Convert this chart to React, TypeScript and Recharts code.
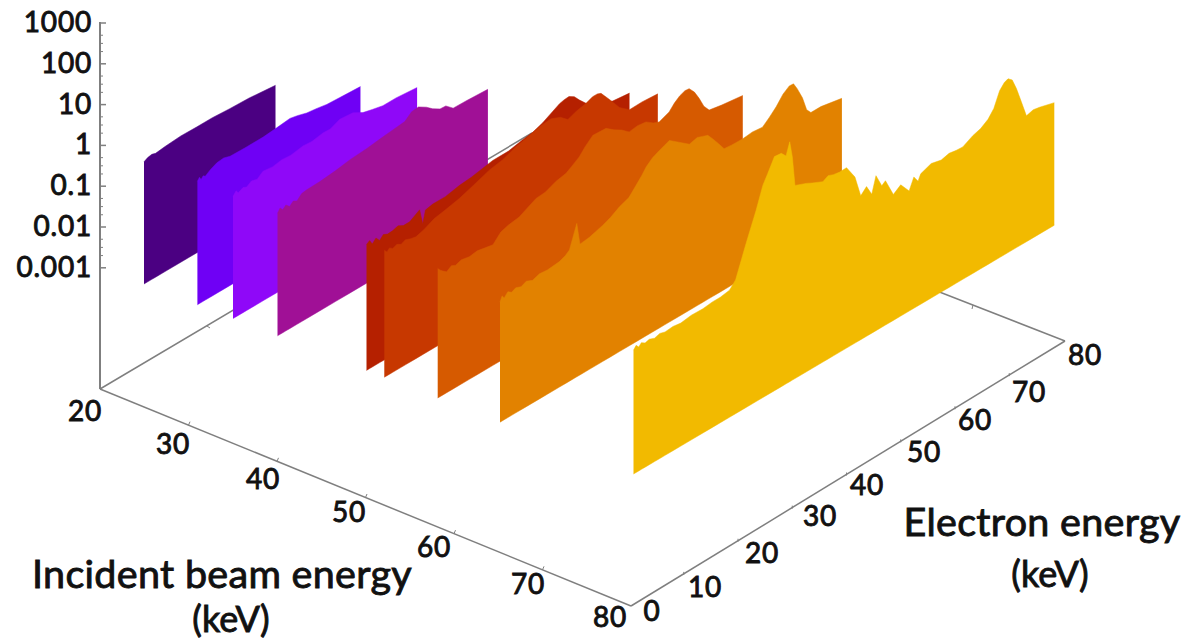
import { ComposedChart, Area, XAxis, YAxis, ReferenceLine, ReferenceDot } from 'recharts';

// electron energy (keV) and log10(intensity) along each spectrum
const e25 = [0, 0.7, 1.5, 2.2, 4, 7, 10, 13, 16.3, 20, 25];
const i25 = [-0.02, 0.03, 0.05, 0.02, 0.05, 0.08, 0.07, 0.07, 0.04, 0.02, -0.05];
const e31 = [0, 0.4, 0.7, 1.1, 1.5, 2.5, 3.7, 5, 6.2, 9, 12.5, 15, 17.6, 19, 20.8, 22.5, 24.6, 27, 31];
const i31 = [0.01, 0.08, 0, 0.06, 0.02, 0.11, 0.18, 0.2, 0.15, 0.14, 0.14, 0.17, 0.21, 0.17, 0.1, 0.07, 0.02, 0, -0.03];
const e35 = [0, 0.6, 1, 1.9, 2.6, 3.5, 4.6, 5.7, 7.5, 9.3, 11, 13.3, 15, 17.1, 18.5, 20.3, 22.8, 24.7, 26.5, 28.5, 31, 35];
const i35 = [-0.02, 0.07, -0.01, 0.05, 0.01, 0.09, 0.05, 0.16, 0.13, 0.17, 0.15, 0.2, 0.18, 0.23, 0.22, 0.32, 0.29, 0.15, 0.09, 0.03, 0.03, -0.02];
const e40 = [0, 0.5, 1, 1.6, 2.3, 3, 3.7, 4.6, 5.5, 8, 11, 13.8, 17, 20, 22, 24.2, 25.5, 26.8, 28.3, 29.5, 30.9, 32, 33.4, 36, 40];
const i40 = [-0.01, 0.08, 0, 0.07, -0.02, 0.06, 0.01, 0.12, 0.14, 0.15, 0.19, 0.25, 0.28, 0.33, 0.36, 0.39, 0.53, 0.55, 0.43, 0.3, 0.19, 0.18, 0.02, 0.01, -0.02];
const e50 = [0, 0.6, 1.1, 1.8, 2.5, 3.2, 4, 5, 6, 7, 8.2, 9.2, 10.1, 10.4, 10.7, 11.2, 12.6, 15, 17.7, 20, 24, 27, 29.5, 31.6, 33.5, 36.7, 37.6, 38.5, 39.5, 40.5, 41.8, 44, 46.8, 48, 50];
const i50 = [0.07, 0.12, 0, 0.09, -0.02, 0.07, 0.02, 0.03, 0.07, 0, 0, 0.08, 0.15, -0.05, -0.24, 0.06, 0.1, 0.1, 0.17, 0.2, 0.3, 0.3, 0.37, 0.41, 0.5, 0.72, 0.75, 0.76, 0.68, 0.52, 0.34, 0.15, 0.02, 0, -0.03];
const e52 = [0, 0.5, 1, 1.6, 2.4, 3.2, 4, 5, 6, 7.5, 9.5, 11.5, 14.3, 17, 20, 22.5, 25, 27.5, 29.5, 31.7, 33.5, 34.9, 36.5, 38.3, 39.6, 40.5, 41.2, 42.8, 44.7, 46.6, 49, 52];
const i52 = [0.1, 0.02, 0.08, 0.02, 0.06, 0, 0.05, 0, -0.03, 0.03, 0.15, 0.2, 0.28, 0.4, 0.54, 0.6, 0.72, 0.8, 0.87, 0.9, 0.8, 0.64, 0.72, 0.77, 0.84, 0.84, 0.8, 0.53, 0.19, -0.01, 0, -0.03];
const e58 = [0, 0.5, 1, 1.7, 2.6, 3.4, 4.5, 6, 7.5, 9, 10.5, 12, 13.5, 15.5, 17, 18.7, 20.5, 22.5, 24.4, 25.5, 26.9, 28, 29.5, 32, 33.5, 35, 36.4, 38, 39.6, 41, 42.1, 44, 45, 46, 47, 47.8, 48.8, 49.7, 50.6, 51.6, 54, 58];
const i58 = [0.16, 0.08, 0.02, -0.05, 0.03, -0.02, 0.03, -0.01, 0.02, -0.02, -0.06, 0.14, 0.2, 0.24, 0.34, 0.45, 0.47, 0.58, 0.63, 0.72, 0.84, 1, 1.17, 1.15, 1, 0.88, 0.73, 0.76, 0.73, 0.6, 0.54, 0.64, 0.78, 0.88, 0.93, 0.92, 0.76, 0.54, 0.28, 0.11, 0.05, -0.02];
const e65 = [0, 0.4, 0.8, 1.5, 2.2, 3, 4, 5, 6.2, 7.5, 9, 11.3, 12.4, 13.2, 14.6, 15.2, 17, 19.5, 21, 22.7, 24.5, 25.9, 27, 27.8, 29, 30.3, 31.3, 32.2, 34, 36, 37.5, 38.5, 39.5, 40.4, 41.5, 42.6, 44, 46.1, 48, 49.9, 51.2, 52.5, 53.8, 55, 55.8, 56.5, 57.5, 58.3, 59.1, 61, 65];
const i65 = [-0.07, 0.05, -0.03, 0.07, 0, 0.05, 0, 0.06, -0.01, 0.05, 0.03, 0.06, 0.12, 0.2, 0.74, 0.19, 0.22, 0.32, 0.4, 0.53, 0.62, 0.82, 0.98, 1.12, 1.25, 1.33, 1.38, 1.43, 1.25, 1.05, 1.1, 1.05, 1, 0.85, 0.65, 0.44, 0.42, 0.41, 0.44, 0.41, 0.55, 0.71, 0.92, 1.03, 1.02, 0.85, 0.55, 0.2, 0.07, 0.07, -0.03];
const e80 = [0, 0.5, 1, 1.5, 2.2, 3, 4, 5, 6, 7.5, 9, 11, 13.2, 15, 16.5, 18.25, 19.4, 21.4, 23.3, 24.6, 25.5, 26.8, 28.1, 29, 29.7, 30.2, 30.7, 32.8, 34, 36, 37, 38, 39.2, 40.5, 42.1, 43.2, 44.3, 45.3, 46.1, 47.2, 47.9, 49.4, 50.8, 52.4, 53.3, 54.1, 54.6, 56.6, 58.5, 60, 61.4, 62.6, 64.5, 66, 67.4, 68.5, 69.6, 70.5, 71.2, 72, 72.8, 73.7, 74.7, 76, 77.2, 80];
const i80 = [0.02, 0.1, 0.02, 0.09, 0.03, 0.06, 0.01, 0.05, 0.01, 0.03, 0, 0.04, 0.03, 0.06, 0.06, 0.1, 0.26, 1, 1.66, 2.18, 2.39, 2.71, 2.69, 2.56, 2.85, 2.44, 1.71, 1.6, 1.52, 1.4, 1.47, 1.42, 1.39, 1.4, 1.05, 0.51, 0.65, 0.39, 0.78, 0.45, 0.52, 0.07, 0.2, -0.07, 0.2, 0.04, 0.18, 0.28, 0.22, 0.27, 0.24, 0.23, 0.36, 0.42, 0.54, 0.72, 1.07, 1.2, 1.24, 1.15, 0.88, 0.5, 0.07, 0.12, 0.09, -0.01];

const logTicks = ['1000', '100', '10', '1', '0.1', '0.01', '0.001'];
const beamTicks = [20, 30, 40, 50, 60, 70, 80];
const electronTicks = [0, 10, 20, 30, 40, 50, 60, 70, 80];

const GREY = '#7f7f7f';
const FONT = 'Lato, sans-serif';

// oblique projection of (beam, electron, log intensity) onto the chart plane
const px = (b: number, e: number) => 144 + (b - 25) * 8.9 + e * 5.26;
const py = (b: number, e: number, v: number) => 284 + (b - 25) * 3.455 - e * 3.11 - (v + 3) * 41;

const slices = [
  { beam: 25, e: e25, v: i25, color: '#4b0082' },
  { beam: 31, e: e31, v: i31, color: '#6f00f5' },
  { beam: 35, e: e35, v: i35, color: '#8f08f8' },
  { beam: 40, e: e40, v: i40, color: '#a01096' },
  { beam: 50, e: e50, v: i50, color: '#b52000' },
  { beam: 52, e: e52, v: i52, color: '#c73800' },
  { beam: 58, e: e58, v: i58, color: '#d65a00' },
  { beam: 65, e: e65, v: i65, color: '#e28200' },
  { beam: 80, e: e80, v: i80, color: '#f2ba00' },
];

const rows = (s: (typeof slices)[number]) =>
  s.e.map((e, i) => ({
    x: px(s.beam, e),
    band: [py(s.beam, e, -3), py(s.beam, e, s.v[i])],
  }));

// floor edges hidden behind the spectra, so they go in the same layer, first
const backLeft = [{ x: 100, band: 389 }, { x: 532, band: 133 }];
const backRight = [{ x: 532, band: 133 }, { x: 1065, band: 341 }];

const seg = (x1: number, y1: number, x2: number, y2: number, w = 1.5) => (
  <ReferenceLine
    key={`${x1}-${y1}-${x2}-${y2}`}
    segment={[{ x: x1, y: y1 }, { x: x2, y: y2 }]}
    stroke={GREY}
    strokeWidth={w}
    ifOverflow="visible"
  />
);

const label = (text: string, x: number, y: number, size = 28, anchor = 'middle', spacing = 0.8) => (
  <ReferenceDot
    key={`${text}-${x}`}
    x={x}
    y={y}
    r={0}
    ifOverflow="visible"
    shape={(p: any) => (
      <text x={p.cx} y={p.cy} textAnchor={anchor} dominantBaseline="central" fontFamily={FONT} fontWeight={400} fontSize={size} letterSpacing={spacing} fill="#111" stroke="#111" strokeWidth={0.9}>
        {text}
      </text>
    )}
  />
);

const beamLabelPos = [[85, 410], [173, 443], [263, 478], [349, 511], [434, 546], [528, 583], [610, 616]];
const electronLabelPos = [[652, 610], [705, 586], [762, 552], [820, 515], [867, 484], [924, 451], [975, 419], [1029, 391], [1085, 354]];

export default function App() {
  return (
    <div style={{ position: 'absolute', left: 0, top: 0, width: 1184, height: 640, background: '#fff' }}>
      <ComposedChart width={1184} height={640} margin={{ top: 0, right: 0, bottom: 0, left: 0 }}>
        <XAxis type="number" dataKey="x" domain={[0, 1184]} hide allowDataOverflow />
        <YAxis type="number" domain={[0, 640]} reversed hide allowDataOverflow />

        <Area data={backLeft} dataKey="band" type="linear" fill="none" stroke={GREY} strokeWidth={1.5} dot={false} activeDot={false} isAnimationActive={false} />
        <Area data={backRight} dataKey="band" type="linear" fill="none" stroke={GREY} strokeWidth={1.5} dot={false} activeDot={false} isAnimationActive={false} />

        {seg(100, 22, 100, 389, 2)}
        {seg(100, 389, 631, 606)}
        {seg(631, 606, 1065, 341)}
        {seg(207, 326, 210, 328, 1)}
        {seg(973, 305, 972, 309, 1)}

        {logTicks.map((_, i) => seg(100, 23 + i * 40.8, 106, 23 + i * 40.8))}
        {logTicks.slice(0, -1).flatMap((_, i) => [0.3, 0.5, 0.7].map((f) => seg(100, 23 + (i + f) * 40.8, 103, 23 + (i + f) * 40.8, 1)))}
        {beamTicks.slice(1, -1).map((_, i) => {
          const x = 100 + ((i + 1) * 531) / 6;
          const y = 389 + ((i + 1) * 217) / 6;
          return seg(x, y, x + 1.5, y - 3.5, 1);
        })}
        {electronTicks.slice(1, -1).map((_, i) => {
          const x = 631 + ((i + 1) * 434) / 8;
          const y = 606 - ((i + 1) * 265) / 8;
          return seg(x - 1.5, y - 1, x - 1.5, y + 2, 1);
        })}

        {slices.map((s) => (
          <Area
            key={s.beam}
            data={rows(s)}
            dataKey="band"
            type="linear"
            fill={s.color}
            fillOpacity={1}
            stroke={s.color}
            strokeWidth={0.5}
            dot={false}
            activeDot={false}
            isAnimationActive={false}
          />
        ))}

        {logTicks.map((t, i) => label(t, 92, 21 + i * 40.8, 28, 'end', 0.8))}
        {beamTicks.map((t, i) => label(String(t), beamLabelPos[i][0], beamLabelPos[i][1]))}
        {electronTicks.map((t, i) => label(String(t), electronLabelPos[i][0], electronLabelPos[i][1]))}
        {label('Incident beam energy', 222, 572, 39.5, 'middle', 0.3)}
        {label('(keV)', 231, 618, 36, 'middle', 0)}
        {label('Electron energy', 1042, 520, 39.5, 'middle', 0.3)}
        {label('(keV)', 1050, 573, 36, 'middle', 0)}
      </ComposedChart>
    </div>
  );
}
